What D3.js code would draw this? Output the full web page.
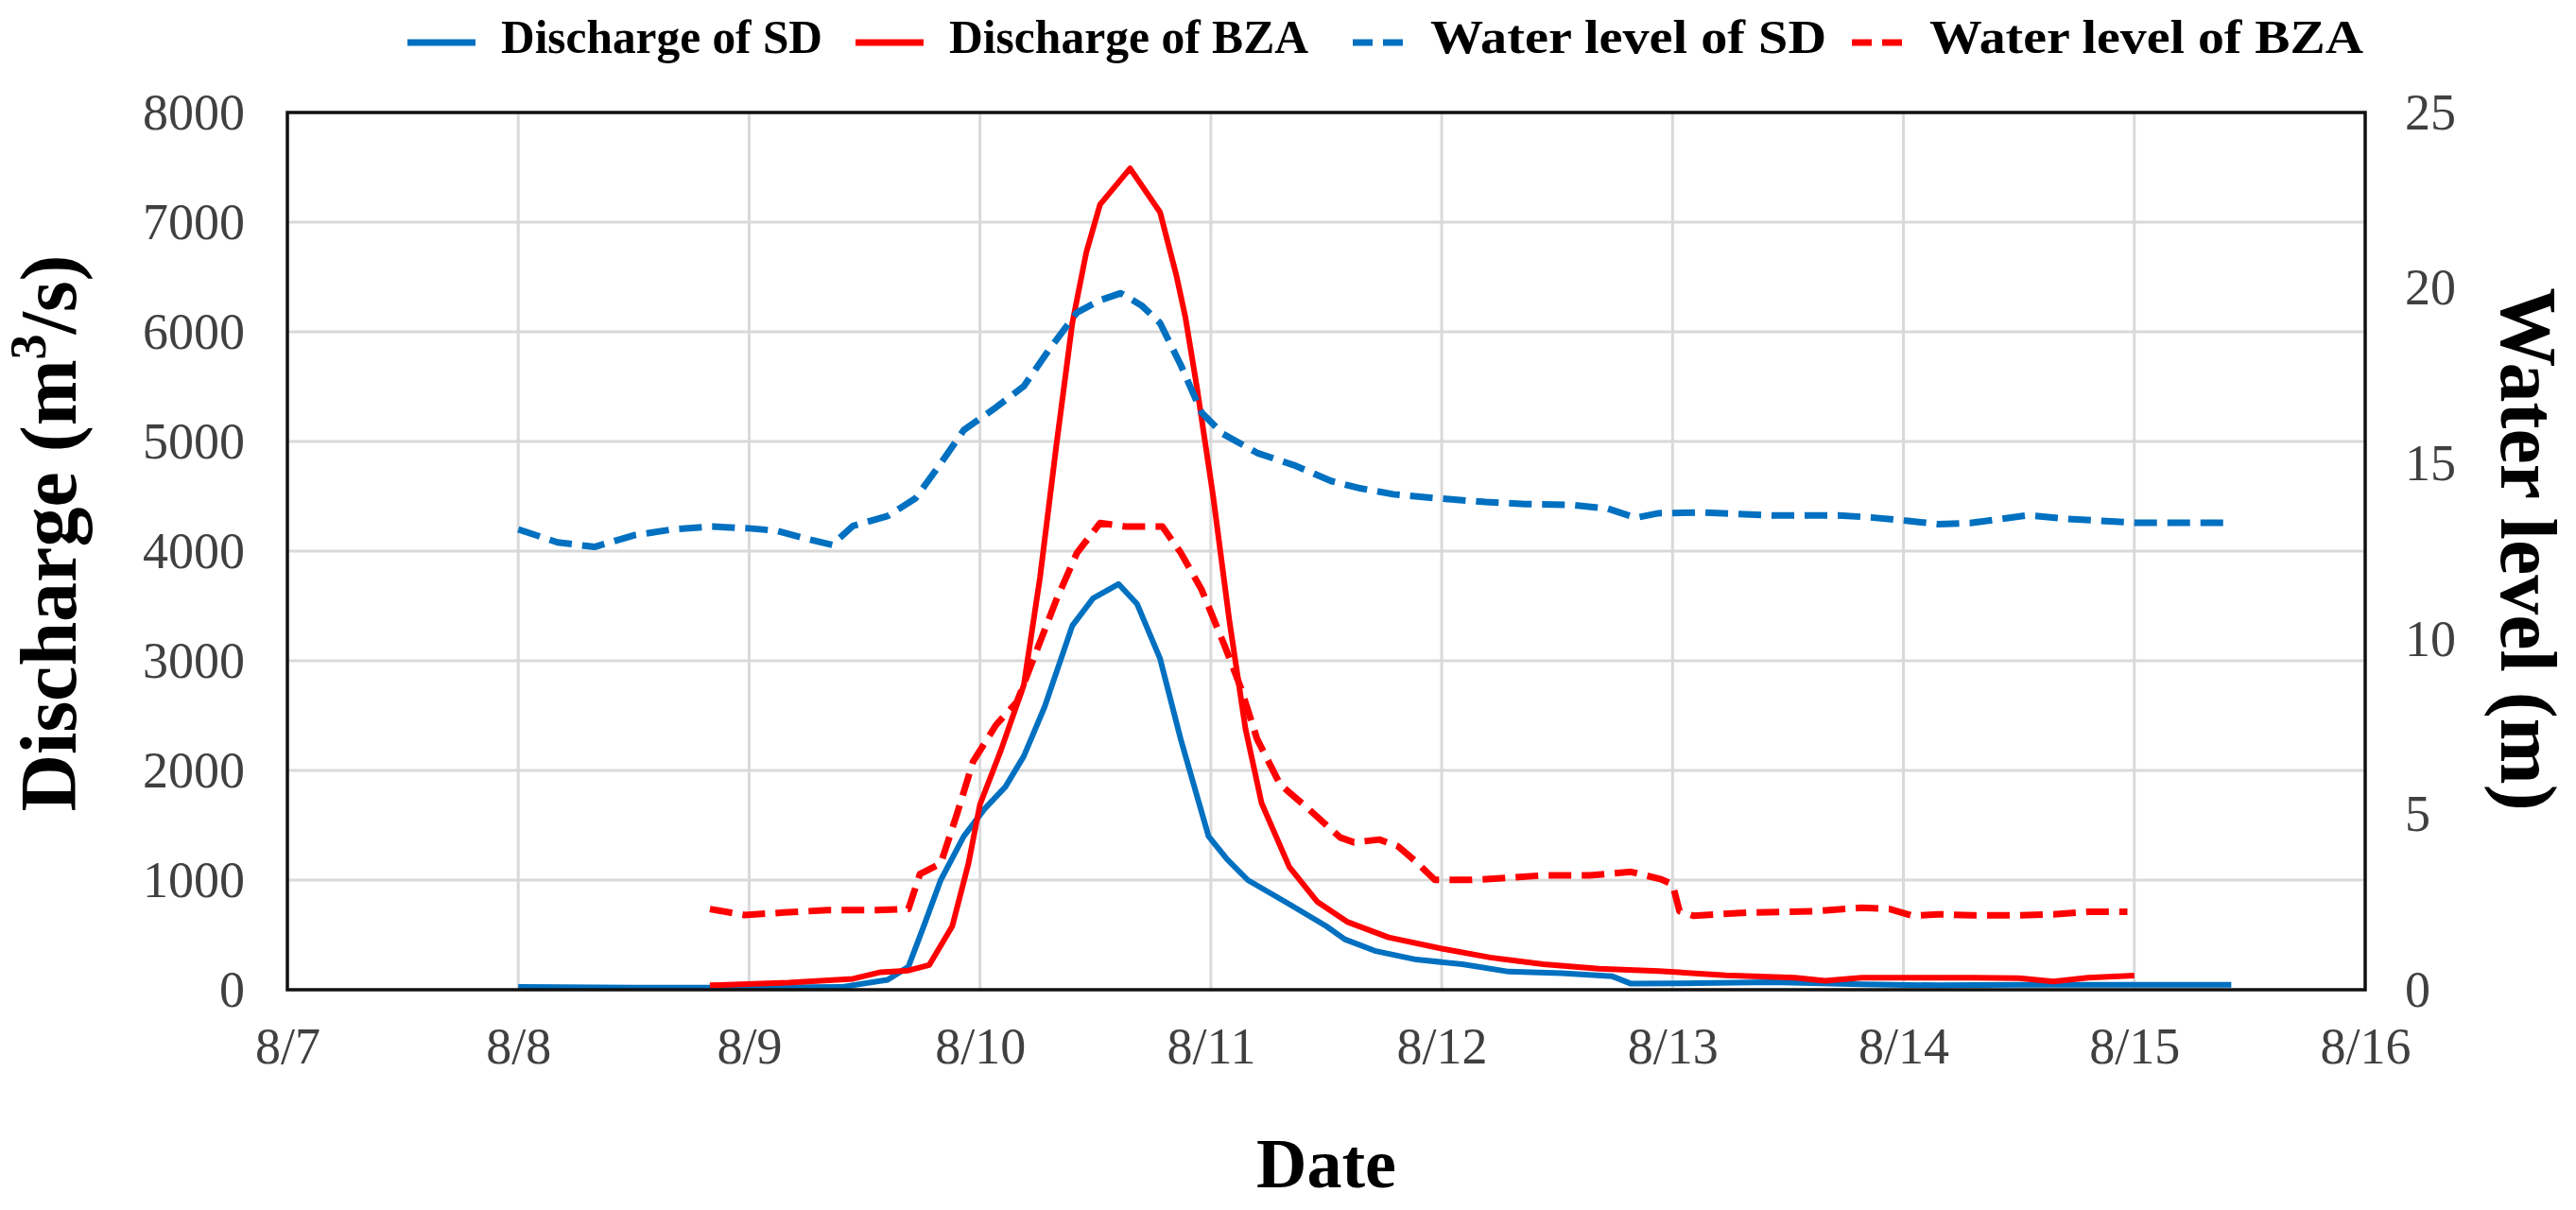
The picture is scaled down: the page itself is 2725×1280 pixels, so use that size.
<!DOCTYPE html>
<html>
<head>
<meta charset="utf-8">
<script src="https://cdn.jsdelivr.net/npm/d3@7"></script>
<style>
  body { margin: 0; background: #fff; }
  svg { display: block; }
  text { font-family: "Liberation Serif", "Times New Roman", serif; }
</style>
</head>
<body>
<svg id="chart" width="2725" height="1280"></svg>
<script>
// x values are days after 8/7 00:00
const dateTicks = [0, 1, 2, 3, 4, 5, 6, 7, 8, 9];
const dateLabels = ["8/7", "8/8", "8/9", "8/10", "8/11", "8/12", "8/13", "8/14", "8/15", "8/16"];
const dischargeTicks = [0, 1000, 2000, 3000, 4000, 5000, 6000, 7000, 8000];
const levelTicks = [0, 5, 10, 15, 20, 25];

// Discharge of SD (m3/s)
const qSdDays = [1.0, 1.5, 2.0, 2.4, 2.6, 2.69, 2.76, 2.83, 2.93, 3.02, 3.11, 3.19, 3.28, 3.4, 3.49, 3.6, 3.68,
  3.78, 3.87, 3.99, 4.07, 4.16, 4.34, 4.5, 4.58, 4.71, 4.89, 5.09, 5.29, 5.52, 5.74, 5.82, 6.03, 6.43, 6.82,
  7.15, 7.5, 8.0, 8.42];
const qSdValues = [25, 20, 20, 25, 90, 210, 600, 1000, 1400, 1650, 1850, 2130, 2580, 3320, 3570, 3700, 3520,
  3020, 2280, 1400, 1190, 1000, 780, 580, 460, 355, 275, 233, 165, 150, 122, 55, 58, 68, 50,
  40, 45, 45, 45];

// Discharge of BZA (m3/s)
const qBzaDays = [1.83, 2.17, 2.45, 2.57, 2.69, 2.78, 2.88, 2.95, 3.0, 3.09, 3.19, 3.26, 3.33, 3.4, 3.46, 3.52,
  3.65, 3.78, 3.85, 3.89, 3.94, 4.01, 4.08, 4.15, 4.22, 4.34, 4.46, 4.59, 4.77, 5.0, 5.21, 5.44, 5.68, 5.94,
  6.23, 6.53, 6.66, 6.82, 7.15, 7.3, 7.5, 7.65, 7.8, 8.0];
const qBzaValues = [40, 64, 100, 160, 175, 225, 580, 1150, 1690, 2180, 2780, 3760, 4950, 6080, 6720, 7160,
  7490, 7090, 6520, 6130, 5490, 4500, 3370, 2380, 1700, 1120, 804, 620, 477, 375, 294, 233, 192, 171,
  131, 110, 82, 110, 110, 110, 105, 75, 110, 130];

// Water level of SD (m)
const wlSdDays = [1.0, 1.17, 1.33, 1.5, 1.67, 1.84, 2.0, 2.12, 2.25, 2.36, 2.45, 2.6, 2.72, 2.83, 2.93, 3.07,
  3.19, 3.3, 3.42, 3.52, 3.61, 3.7, 3.78, 3.87, 3.96, 4.05, 4.2, 4.36, 4.52, 4.64, 4.79, 4.99, 5.19, 5.36,
  5.56, 5.72, 5.84, 5.94, 6.13, 6.43, 6.72, 6.86, 7.02, 7.15, 7.29, 7.54, 7.71, 8.0, 8.42];
const wlSdValues = [13.12, 12.75, 12.62, 12.95, 13.12, 13.2, 13.15, 13.08, 12.85, 12.68, 13.22, 13.5, 14.0,
  15.0, 15.95, 16.6, 17.2, 18.25, 19.3, 19.65, 19.85, 19.5, 19.0, 17.8, 16.45, 15.85, 15.3, 14.95, 14.5,
  14.3, 14.12, 14.0, 13.9, 13.84, 13.82, 13.71, 13.45, 13.58, 13.6, 13.52, 13.52, 13.46, 13.36, 13.27,
  13.3, 13.52, 13.42, 13.31, 13.31];

// Water level of BZA (m)
const wlBzaDays = [1.83, 1.98, 2.15, 2.34, 2.55, 2.69, 2.74, 2.83, 2.9, 2.97, 3.07, 3.16, 3.23, 3.33, 3.42,
  3.52, 3.63, 3.79, 3.87, 3.96, 4.06, 4.13, 4.2, 4.3, 4.42, 4.56, 4.62, 4.73, 4.81, 4.89, 4.97, 5.13, 5.29,
  5.44, 5.64, 5.82, 5.95, 6.0, 6.03, 6.09, 6.33, 6.62, 6.82, 6.94, 7.04, 7.15, 7.3, 7.5, 7.65, 7.8, 7.97];
const wlBzaValues = [2.3, 2.13, 2.2, 2.27, 2.27, 2.3, 3.3, 3.6, 5.0, 6.5, 7.55, 8.2, 9.4, 11.1, 12.45, 13.3,
  13.2, 13.2, 12.45, 11.4, 9.8, 8.6, 7.15, 5.85, 5.17, 4.34, 4.2, 4.28, 4.09, 3.64, 3.13, 3.13, 3.19, 3.26,
  3.26, 3.36, 3.15, 3.0, 2.24, 2.11, 2.2, 2.24, 2.34, 2.3, 2.11, 2.15, 2.12, 2.12, 2.15, 2.22, 2.22];

const seriesNames = ["Discharge of SD", "Discharge of BZA", "Water level of SD", "Water level of BZA"];

const blue = "#0070C0";
const red = "#FF0000";

const svg = d3.select("#chart");
const plotLeft = 304, plotRight = 2502, plotTop = 119, plotBottom = 1047;

const xScale = d3.scaleLinear().domain([0, 9]).range([plotLeft, plotRight]);
const yLeft = d3.scaleLinear().domain([0, 8000]).range([plotBottom, plotTop]);
const yRight = d3.scaleLinear().domain([0, 25]).range([plotBottom, plotTop]);

// grid
svg.append("g")
  .selectAll("line")
  .data(dischargeTicks.slice(1, -1))
  .join("line")
  .attr("x1", plotLeft).attr("x2", plotRight)
  .attr("y1", d => yLeft(d)).attr("y2", d => yLeft(d))
  .attr("stroke", "#d9d9d9").attr("stroke-width", 3);

svg.append("g")
  .selectAll("line")
  .data(dateTicks.slice(1, -1))
  .join("line")
  .attr("x1", d => xScale(d)).attr("x2", d => xScale(d))
  .attr("y1", plotTop).attr("y2", plotBottom)
  .attr("stroke", "#d9d9d9").attr("stroke-width", 3);

// series
const zip = (xs, ys) => xs.map((x, i) => [x, ys[i]]);
const lineLeft = d3.line().x(d => xScale(d[0])).y(d => yLeft(d[1]));
const lineRight = d3.line().x(d => xScale(d[0])).y(d => yRight(d[1]));

const series = [
  { data: zip(qSdDays, qSdValues), line: lineLeft, color: blue, dash: null },
  { data: zip(qBzaDays, qBzaValues), line: lineLeft, color: red, dash: null },
  { data: zip(wlSdDays, wlSdValues), line: lineRight, color: blue, dash: "24,11" },
  { data: zip(wlBzaDays, wlBzaValues), line: lineRight, color: red, dash: "24,11" }
];

series.forEach(s => {
  svg.append("path")
    .attr("d", s.line(s.data))
    .attr("fill", "none")
    .attr("stroke", s.color)
    .attr("stroke-width", s.dash ? 7 : 6)
    .attr("stroke-dasharray", s.dash)
    .attr("stroke-linejoin", "round");
});

// plot frame
svg.append("rect")
  .attr("x", plotLeft).attr("y", plotTop)
  .attr("width", plotRight - plotLeft).attr("height", plotBottom - plotTop)
  .attr("fill", "none").attr("stroke", "#111").attr("stroke-width", 3.5);

// axes
const tickFont = 54;
const leftAxis = svg.append("g")
  .attr("transform", `translate(${plotLeft},0)`)
  .call(d3.axisLeft(yLeft).tickValues(dischargeTicks).tickSize(0).tickPadding(45)
    .tickFormat(d3.format("d")));
const rightAxis = svg.append("g")
  .attr("transform", `translate(${plotRight},0)`)
  .call(d3.axisRight(yRight).tickValues(levelTicks).tickSize(0).tickPadding(42));
const bottomAxis = svg.append("g")
  .attr("transform", `translate(0,${plotBottom})`)
  .call(d3.axisBottom(xScale).tickValues(dateTicks).tickSize(0).tickPadding(40)
    .tickFormat((d, i) => dateLabels[i]));

[leftAxis, rightAxis, bottomAxis].forEach(a => {
  a.select(".domain").remove();
  a.selectAll("text")
    .style("font-family", '"Liberation Serif", "Times New Roman", serif')
    .style("font-size", tickFont + "px")
    .attr("fill", "#404040");
});

// axis titles
const sideTitleFont = 84;
const yTitle = svg.append("text")
  .attr("transform", "translate(80,564) rotate(-90)")
  .attr("text-anchor", "middle")
  .style("font-size", sideTitleFont + "px")
  .style("font-weight", "bold");
yTitle.append("tspan").text("Discharge (m");
yTitle.append("tspan").text("3").style("font-size", "54px").attr("dy", -32);
yTitle.append("tspan").text("/s)").attr("dy", 32);

svg.append("text")
  .attr("transform", "translate(2646,581) rotate(90)")
  .attr("text-anchor", "middle")
  .style("font-size", sideTitleFont + "px")
  .style("font-weight", "bold")
  .text("Water level (m)");

svg.append("text")
  .attr("x", (plotLeft + plotRight) / 2)
  .attr("y", 1256)
  .attr("text-anchor", "middle")
  .style("font-size", "74px")
  .style("font-weight", "bold")
  .text("Date");

// legend
const legendX = [431, 905, 1431, 1959];
const legendTextWidth = [340, 380, 419, 459];
const legend = svg.append("g");
series.forEach((s, i) => {
  const g = legend.append("g").attr("transform", `translate(${legendX[i]},45)`);
  g.append("line")
    .attr("x1", 0).attr("x2", s.dash ? 54 : 72)
    .attr("stroke", s.color)
    .attr("stroke-width", 7)
    .attr("stroke-dasharray", s.dash ? "21,11" : null);
  g.append("text")
    .attr("x", s.dash ? 82 : 99)
    .attr("y", 11)
    .attr("textLength", legendTextWidth[i])
    .attr("lengthAdjust", "spacingAndGlyphs")
    .style("font-size", "50px")
    .style("font-weight", "bold")
    .text(seriesNames[i]);
});
</script>
</body>
</html>
